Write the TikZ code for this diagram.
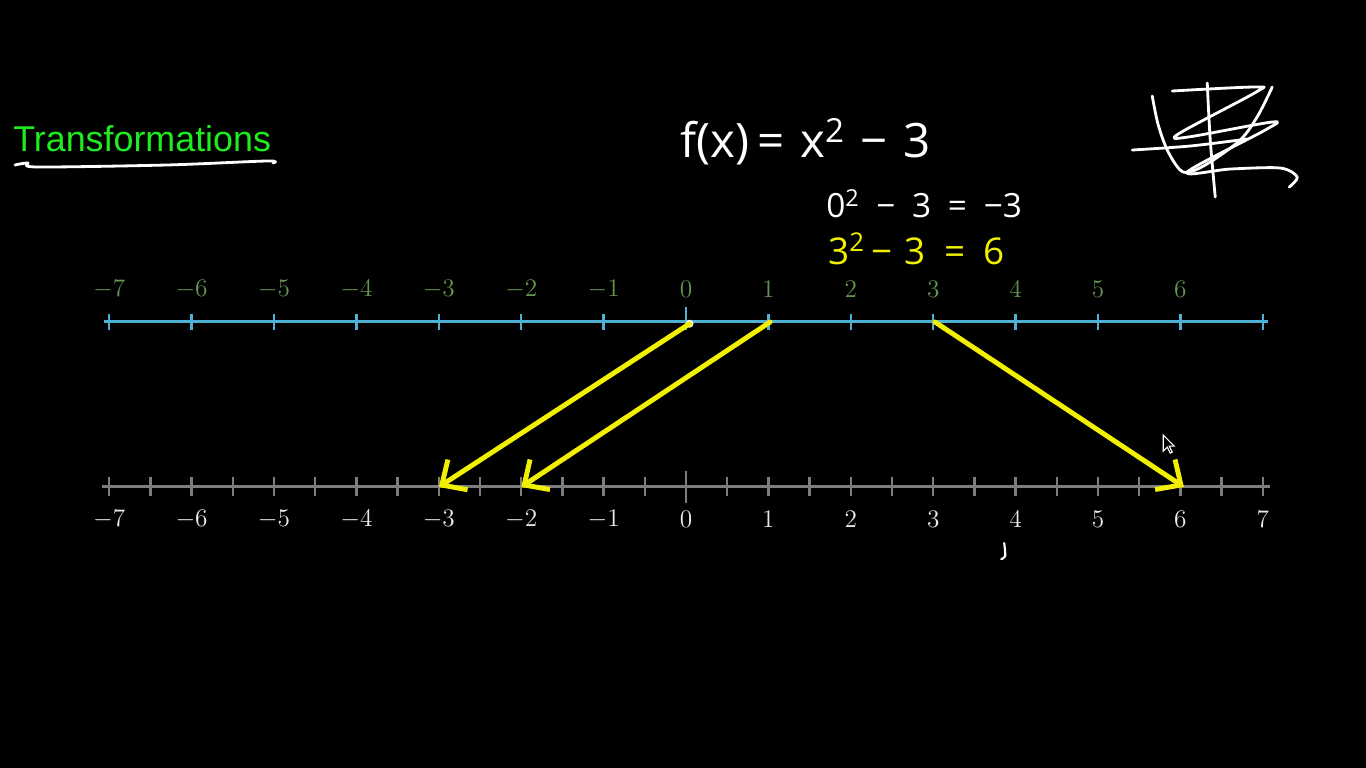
\documentclass[tikz,border=0pt]{standalone}
\usepackage{fontspec}
\newfontfamily\titlefont{Liberation Sans}
\newfontfamily\handfont{Open Sans}
\definecolor{lineblue}{RGB}{78,178,212}
\definecolor{labelgreen}{RGB}{98,150,78}
\definecolor{titlegreen}{RGB}{30,236,30}
\definecolor{axisgray}{RGB}{125,125,125}
\definecolor{penyellow}{RGB}{240,240,0}
\usetikzlibrary{arrows.meta,positioning}

\begin{document}
\begin{tikzpicture}[
  topaxis/.style={lineblue,line width=1.7pt},
  toptick/.style={lineblue,line width=1.4pt},
  botaxis/.style={axisgray,line width=1.7pt},
  bottick/.style={axisgray,line width=1.4pt},
  toplabel/.style={text=labelgreen,font=\fontsize{13.5}{15}\selectfont},
  botlabel/.style={text=white!92!black,font=\fontsize{13.5}{15}\selectfont},
  pen/.style={white,line width=1.6pt,line cap=round,line join=round},
  hand/.style={anchor=base west,inner sep=0pt},
  maparrow/.style={-{Straight Barb[length=0.38cm,width=0.72cm]},penyellow,
                   line width=2.8pt,line cap=round},
]
  % Background
  \fill[black] (0,0) rectangle (27.32,15.36);

  % Title
  \node[font=\titlefont\fontsize{20.4}{24}\selectfont,text=titlegreen,
        anchor=base west,inner sep=0pt] (title) at (0.26,12.32) {Transformations};
  \draw[pen] plot[smooth] coordinates {(0.3,12.06) (0.56,12.1) (0.74,12.02)
    (3.34,12.06) (5.34,12.14) (5.46,12.1)};

  % Handwritten function and values
  \node[hand,text=white,font=\handfont\fontsize{27}{30}\selectfont]
    (fx) at (13.6,12.2) {f(x)\,=\,\,x\textsuperscript{2}\,\,−\,\,3};
  \node[hand,text=white,font=\handfont\fontsize{19}{22}\selectfont]
    (zero) at (16.52,11.0) {0\textsuperscript{2}\enspace−\enspace3\enspace=\enspace−3};
  \node[hand,text=penyellow,font=\handfont\fontsize{21}{24}\selectfont]
    (three) at (16.56,10.06) {3\textsuperscript{2}\,−\,\,3\enspace=\enspace6};

  % Input number line
  \begin{scope}[shift={(13.72,8.92)},x=1.648cm]
    \draw[topaxis] (-7.06,0) -- (7.06,0);
    \foreach \n in {-7,...,7}
      \draw[toptick] (\n,-0.16) -- (\n,0.16);
    \draw[toptick] (0,0.16) -- (0,0.3);
    \foreach \n in {-7,...,6}
      \node[toplabel] (tl\n) at (\n,0.66) {$\n$};
    \foreach \n in {0,1,3}
      \coordinate (top\n) at (\n,0);
  \end{scope}

  % Output number line
  \begin{scope}[shift={(13.72,5.62)},x=1.648cm]
    \draw[botaxis] (-7.09,0) -- (7.09,0);
    \foreach \k in {-14,...,14}
      \draw[bottick] (\k/2,-0.19) -- (\k/2,0.19);
    \draw[bottick] (0,-0.32) -- (0,0.32);
    \foreach \n in {-7,...,7}
      \node[botlabel] (bl\n) at (\n,-0.64) {$\n$};
    \foreach \n in {-3,-2,6}
      \coordinate (bot\n) at (\n,0);
  \end{scope}

  % Mapping arrows
  \fill[white] ([xshift=2pt,yshift=-1pt]top0) circle (0.08);
  \draw[maparrow] ([xshift=2pt,yshift=-1pt]top0) -- (bot-3);
  \draw[maparrow] ([xshift=1pt]top1) -- (bot-2);
  \draw[maparrow] ([xshift=1pt]top3) -- ([xshift=2pt]bot6);

  % Scribble, cursor and stray mark (pixel units)
  \begin{scope}[shift={(0cm,15.36cm)},x=0.02cm,y=-0.02cm]
    \draw[pen] plot[smooth] coordinates {(1152,96) (1158,125) (1168,152)
      (1183,172) (1205,165) (1240,140) (1258,115) (1272,87)};
    \draw[pen] plot[smooth] coordinates {(1132,150) (1190,146) (1247,139)};
    \draw[pen] plot[smooth] coordinates {(1207,83) (1210,140) (1215,197)};
    \draw[pen] plot[smooth] coordinates {(1172,91) (1255,87) (1256,92)
      (1178,134) (1188,137) (1272,122) (1265,130) (1187,172) (1230,169)
      (1280,168) (1297,177) (1289,187)};
    \draw[white,line width=0.6pt,fill=black] (1163,435) -- (1163,451)
      -- (1167,447) -- (1170,453) -- (1172,452) -- (1169,446) -- (1174,446) -- cycle;
    \draw[pen,line width=1.2pt] plot[smooth] coordinates {(1004,543) (1005,556) (1001,559)};
  \end{scope}
\end{tikzpicture}
\end{document}
